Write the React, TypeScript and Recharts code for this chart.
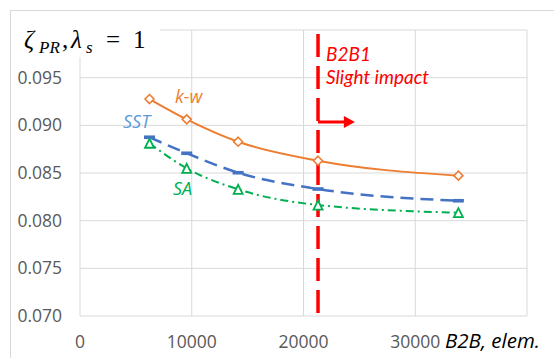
import React from 'react';
import { LineChart, Line, XAxis, YAxis, CartesianGrid, ReferenceLine, ReferenceDot } from 'recharts';

const elements = [6220, 9550, 14150, 21300, 33860];
const kwValues = [0.09276, 0.09063, 0.08828, 0.08629, 0.08472];
const sstValues = [0.08875, 0.08707, 0.08503, 0.08332, 0.08209];
const saValues = [0.08812, 0.08549, 0.08329, 0.08164, 0.08084];
const xTicks = [0, 10000, 20000, 30000, 40000];
const yTicks = [0.07, 0.075, 0.08, 0.085, 0.09, 0.095, 0.1];
const thresholdX = 21300;
const arrowEndX = 24600;
const arrowY = 0.09035;
const noteLines = ['B2B1', 'Slight impact'];

const data = elements.map((e, i) => ({ e, kw: kwValues[i], sst: sstValues[i], sa: saValues[i] }));

const ORANGE = '#ED7D31';
const BLUE = '#4472C4';
const LBLUE = '#5B9BD5';
const GREEN = '#00B050';
const RED = '#FF0000';
const TICK = '#595959';
const FONT = '"Open Sans", sans-serif';
const NOTE_FONT = 'Lato, "Open Sans", sans-serif';

const DiamondDot = (p: any) => {
  const { cx, cy, index } = p;
  const r = 4.5;
  return (
    <path key={`d${index}`} d={`M${cx},${cy - r}L${cx + r},${cy}L${cx},${cy + r}L${cx - r},${cy}Z`}
      fill="#fff" stroke={ORANGE} strokeWidth={1.6} />
  );
};
const DashDot = (p: any) => {
  const { cx, cy, index } = p;
  return <rect key={`s${index}`} x={cx - 5.5} y={cy - 1.8} width={11} height={3.6} fill={BLUE} />;
};
const TriDot = (p: any) => {
  const { cx, cy, index } = p;
  const r = 4.5;
  return (
    <path key={`t${index}`} d={`M${cx},${cy - r}L${cx + r},${cy + r}L${cx - r},${cy + r}Z`}
      fill="#fff" stroke={GREEN} strokeWidth={1.8} />
  );
};

const XTick = (p: any) => {
  const { x, y, payload } = p;
  if (payload.value === 40000) return <g />;
  return (
    <text x={x} y={y + 32} textAnchor="middle" fill={TICK} fontFamily={FONT} fontSize={17.5}>
      {payload.value}
    </text>
  );
};
const YTick = (p: any) => {
  const { x, y, payload } = p;
  if (payload.value >= 0.0999) return <g />;
  return (
    <text x={x} y={y + 6} textAnchor="end" fill={TICK} fontFamily={FONT} fontSize={17.5}>
      {payload.value.toFixed(3)}
    </text>
  );
};

const makeLabel = (txt: string, color: string, size = 18) => (props: any) => {
  const vb = props.viewBox || {};
  return (
    <text x={vb.x} y={vb.y} fill={color} fontFamily={FONT} fontStyle="italic" fontSize={size} textAnchor="start">
      {txt}
    </text>
  );
};

const NoteLabel = (props: any) => {
  const vb = props.viewBox || {};
  return (
    <g>
      <text x={vb.x} y={vb.y - 1.5} fill={RED} fontFamily={NOTE_FONT} fontStyle="italic" fontSize={19} textAnchor="start">
        {noteLines[0]}
      </text>
      <text x={vb.x} y={vb.y + 21.5} fill={RED} fontFamily={NOTE_FONT} fontStyle="italic" fontSize={19} textAnchor="start">
        {noteLines[1]}
      </text>
    </g>
  );
};

const ArrowShape = (p: any) => {
  const { x1, y1, x2, y2 } = p;
  return (
    <g>
      <line x1={x1} y1={y1} x2={x2 - 9} y2={y2} stroke={RED} strokeWidth={3} />
      <path d={`M${x2 - 11},${y2 - 6}L${x2},${y2}L${x2 - 11},${y2 + 6}Z`} fill={RED} />
    </g>
  );
};

export default function App() {
  return (
    <div style={{ position: 'absolute', left: 0, top: 0, width: 554, height: 358, background: '#fff', overflow: 'hidden' }}>
      <LineChart width={554} height={358} data={data} margin={{ top: 30, right: 27, bottom: 0, left: 0 }}>
        <CartesianGrid stroke="#d9d9d9" strokeWidth={1} />
        <XAxis dataKey="e" type="number" domain={[0, 40000]} ticks={xTicks} tick={<XTick />}
          axisLine={false} tickLine={false} tickSize={0} tickMargin={0} height={42} interval={0} />
        <YAxis type="number" domain={[0.07, 0.1]} ticks={yTicks} tick={<YTick />}
          axisLine={false} tickLine={false} tickSize={0} tickMargin={18} width={80} interval={0} />
        <ReferenceLine segment={[{ x: thresholdX, y: 0.09958 }, { x: thresholdX, y: 0.0703 }]}
          stroke={RED} strokeWidth={3.5} strokeDasharray="23 9" />
        <ReferenceLine segment={[{ x: thresholdX, y: arrowY }, { x: arrowEndX, y: arrowY }]}
          shape={ArrowShape} />
        <Line type="monotone" dataKey="kw" stroke={ORANGE} strokeWidth={2} dot={DiamondDot} activeDot={false} isAnimationActive={false} />
        <Line type="monotone" dataKey="sst" stroke={BLUE} strokeWidth={2.5} strokeDasharray="13 7" dot={DashDot} activeDot={false} isAnimationActive={false} />
        <Line type="monotone" dataKey="sa" stroke={GREEN} strokeWidth={2} strokeDasharray="8 4 2 4" dot={TriDot} activeDot={false} isAnimationActive={false} />
        <ReferenceDot x={8505} y={0.09234} r={0} stroke="none" label={makeLabel('k-w', ORANGE)} />
        <ReferenceDot x={3850} y={0.08972} r={0} stroke="none" label={makeLabel('SST', LBLUE)} />
        <ReferenceDot x={8326} y={0.08269} r={0} stroke="none" label={makeLabel('SA', GREEN)} />
        <ReferenceDot x={22023} y={0.09664} r={0} stroke="none" label={NoteLabel} />
      </LineChart>
      <svg width={554} height={358} style={{ position: 'absolute', left: 0, top: 0, pointerEvents: 'none' }}>
        <rect x={10.5} y={10.5} width={700} height={500} fill="none" stroke="#d9d9d9" strokeWidth={1} />
        <rect x={16} y={16} width={144} height={41} fill="#fff" />
        <text fontFamily='"Liberation Serif", serif' fill="#000">
          <tspan x={24} y={48} fontSize={25} fontStyle="italic">ζ</tspan>
          <tspan x={39} y={53} fontSize={17} fontStyle="italic">PR</tspan>
          <tspan x={62} y={48} fontSize={25}>,</tspan>
          <tspan x={71} y={48} fontSize={25} fontStyle="italic">λ</tspan>
          <tspan x={86} y={53} fontSize={17} fontStyle="italic">s</tspan>
          <tspan x={106} y={48} fontSize={25}>=</tspan>
          <tspan x={133} y={48} fontSize={25}>1</tspan>
        </text>
        <text x={445} y={348} fontFamily={FONT} fontStyle="italic" fontSize={20.5} fill="#000">B2B, elem.</text>
      </svg>
    </div>
  );
}
